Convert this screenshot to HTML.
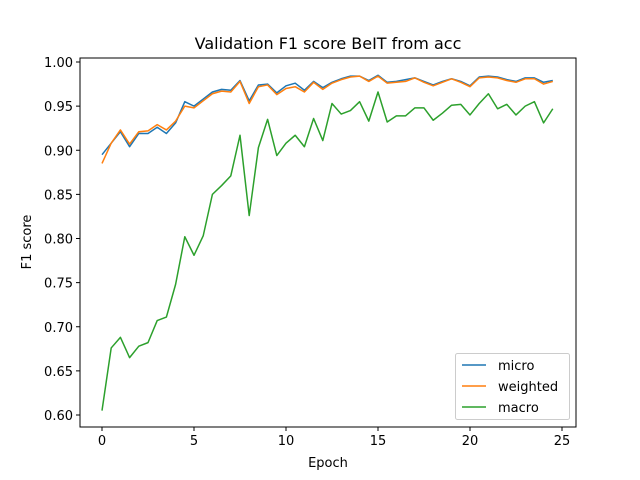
<!DOCTYPE html>
<html><head><meta charset="utf-8"><style>body{margin:0;background:#fff}svg{display:block;font-family:"DejaVu Sans","Liberation Sans",sans-serif}</style></head>
<body>
<svg id="chart" width="640" height="480" viewBox="0 0 640 480"></svg>
<script>
const epochs = Array.from({length:50},(_, i)=>i*0.5);
const micro = [0.895,0.908,0.921,0.904,0.919,0.919,0.926,0.919,0.931,0.955,0.950,0.958,0.966,0.969,0.968,0.979,0.956,0.974,0.975,0.965,0.973,0.976,0.968,0.978,0.971,0.977,0.981,0.984,0.984,0.979,0.985,0.977,0.978,0.980,0.982,0.978,0.974,0.978,0.981,0.978,0.973,0.983,0.984,0.983,0.980,0.978,0.982,0.982,0.977,0.979];
const weighted = [0.885,0.908,0.923,0.907,0.921,0.922,0.929,0.923,0.933,0.950,0.948,0.956,0.964,0.967,0.966,0.978,0.953,0.972,0.974,0.963,0.970,0.972,0.966,0.977,0.969,0.976,0.980,0.983,0.984,0.978,0.984,0.976,0.977,0.978,0.982,0.977,0.973,0.977,0.981,0.977,0.972,0.982,0.983,0.982,0.979,0.977,0.981,0.981,0.975,0.978];
const macro = [0.605,0.676,0.688,0.665,0.678,0.682,0.707,0.711,0.748,0.802,0.781,0.803,0.850,0.860,0.871,0.917,0.826,0.903,0.935,0.894,0.908,0.917,0.904,0.936,0.911,0.953,0.941,0.945,0.955,0.933,0.966,0.932,0.939,0.939,0.948,0.948,0.934,0.942,0.951,0.952,0.940,0.953,0.964,0.947,0.952,0.940,0.950,0.955,0.931,0.947];
const xTicks = [0,5,10,15,20,25];
const yTicks = [0.60,0.65,0.70,0.75,0.80,0.85,0.90,0.95,1.00];
const seriesNames = ["micro","weighted","macro"];
const NS="http://www.w3.org/2000/svg", svg=document.getElementById('chart');
const L=80,R=576,T=58,B=427;
const xs=v=>102+(v-0)*(562-102)/25;
const ys=v=>415-(v-0.6)*(415-62)/0.4;
function mk(t,a,p){const e=document.createElementNS(NS,t);for(const k in a)e.setAttribute(k,a[k]);(p||svg).appendChild(e);return e;}
let e;
e=mk('rect',{x:L,y:T,width:R-L,height:B-T,fill:'none',stroke:'#000','stroke-width':1});


xTicks.forEach(v=>{const x=xs(v);
 e=mk('line',{x1:x,x2:x,y1:B,y2:B+4,stroke:'#000'});
 
 
 e=mk('text',{x:x,y:B+18,'font-size':13,'text-anchor':'middle'});e.textContent=v;
 
 });
yTicks.forEach(v=>{const y=ys(v);
 e=mk('line',{x1:L-4,x2:L,y1:y,y2:y,stroke:'#000'});
 
 
 e=mk('text',{x:L-7,y:y+5,'font-size':13,'text-anchor':'end'});e.textContent=v.toFixed(2);
 
 });
const colors=['#1f77b4','#ff7f0e','#2ca02c'];
[micro,weighted,macro].forEach((s,i)=>{
 e=mk('polyline',{points:s.map((v,j)=>xs(epochs[j])+','+ys(v)).join(' '),fill:'none',stroke:colors[i],'stroke-width':1.5,'stroke-linejoin':'round'});
 
 });
e=mk('text',{x:328,y:49,'font-size':16,'text-anchor':'middle'});e.textContent='Validation F1 score BeIT from acc';


e=mk('text',{x:328,y:467,'font-size':13,'text-anchor':'middle'});e.textContent='Epoch';


e=mk('text',{x:0,y:0,'font-size':13,'text-anchor':'middle',transform:'translate(31,242) rotate(-90)'});e.textContent='F1 score';


const lg=mk('g',{});


mk('rect',{x:455.5,y:353.5,width:114,height:66,rx:2,fill:'#fff',stroke:'#ccc'},lg);
seriesNames.forEach((n,i)=>{const y=365+i*21;
 e=mk('line',{x1:462,x2:486,y1:y,y2:y,stroke:colors[i],'stroke-width':1.5},lg);
 
 
 e=mk('text',{x:498,y:y+5,'font-size':13},lg);e.textContent=n;
 
 });
</script>
</body></html>
